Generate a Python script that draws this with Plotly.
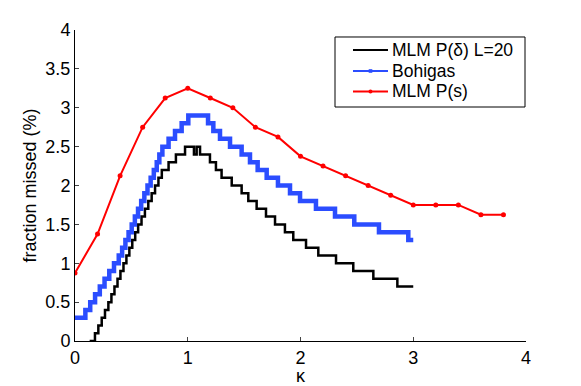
import plotly.graph_objects as go

# ---- data ----
# MLM P(delta) L=20 : staircase, step start kappa and level
black_kappa = [0.13, 0.177, 0.207, 0.237, 0.266, 0.296, 0.323, 0.350, 0.377, 0.403,
               0.43, 0.456, 0.482, 0.508, 0.534, 0.56, 0.59, 0.62, 0.65, 0.68,
               0.71, 0.74, 0.77, 0.83, 0.895, 0.976, 1.055, 1.079, 1.109, 1.197,
               1.25, 1.30, 1.39, 1.478, 1.537, 1.611, 1.694, 1.774, 1.862, 1.936,
               2.049, 2.158, 2.315, 2.468, 2.646, 2.859, 3.0]
black_frac = [0.0, 0.1, 0.2, 0.3, 0.4, 0.5, 0.6, 0.7, 0.8, 0.9,
              1.0, 1.1, 1.2, 1.3, 1.4, 1.5, 1.6, 1.7, 1.8, 1.9,
              2.0, 2.1, 2.2, 2.3, 2.4, 2.5, 2.4, 2.5, 2.4, 2.3,
              2.2, 2.1, 2.0, 1.9, 1.8, 1.7, 1.6, 1.5, 1.4, 1.3,
              1.2, 1.1, 1.0, 0.9, 0.8, 0.7, 0.7]

# Bohigas : staircase
blue_kappa = [0.0, 0.092, 0.135, 0.178, 0.22, 0.262, 0.304, 0.346, 0.388, 0.418,
              0.447, 0.475, 0.503, 0.531, 0.559, 0.587, 0.615, 0.643, 0.671, 0.699,
              0.725, 0.748, 0.775, 0.83, 0.887, 0.946, 1.005, 1.18, 1.227, 1.286,
              1.375, 1.478, 1.552, 1.62, 1.70, 1.80, 1.907, 1.996, 2.137, 2.306,
              2.477, 2.696, 2.956, 3.0]
blue_frac = [0.3, 0.4, 0.5, 0.6, 0.7, 0.8, 0.9, 1.0, 1.1, 1.2,
             1.3, 1.4, 1.5, 1.6, 1.7, 1.8, 1.9, 2.0, 2.1, 2.2,
             2.3, 2.4, 2.5, 2.6, 2.7, 2.8, 2.9, 2.8, 2.7, 2.6,
             2.5, 2.4, 2.3, 2.2, 2.1, 2.0, 1.9, 1.8, 1.7, 1.6,
             1.5, 1.4, 1.3, 1.3]

# MLM P(s)
red_kappa = [0.0, 0.2, 0.4, 0.6, 0.8, 1.0, 1.2, 1.4, 1.6, 1.8,
             2.0, 2.2, 2.4, 2.6, 2.8, 3.0, 3.2, 3.4, 3.6, 3.8]
red_frac = [0.875, 1.375, 2.125, 2.75, 3.125, 3.25, 3.125, 3.0, 2.75, 2.625,
            2.375, 2.25, 2.125, 2.0, 1.875, 1.75, 1.75, 1.75, 1.625, 1.625]

series_names = ["MLM P(δ) L=20", "Bohigas", "MLM P(s)"]
series_colors = ["#000000", "#2b4dff", "#ff0000"]

tick_vals_x = [0, 1, 2, 3, 4]
tick_vals_y = [0, 0.5, 1, 1.5, 2, 2.5, 3, 3.5, 4]
tick_text_y = ["0", "0.5", "1", "1.5", "2", "2.5", "3", "3.5", "4"]

FONT = "Liberation Sans, Arial, Helvetica, sans-serif"

fig = go.Figure()
fig.add_trace(go.Scatter(x=black_kappa, y=black_frac, mode="lines", line_shape="hv",
                         line=dict(color=series_colors[0], width=2.5), name=series_names[0]))
fig.add_trace(go.Scatter(x=blue_kappa, y=blue_frac, mode="lines", line_shape="hv",
                         line=dict(color=series_colors[1], width=4.5), name=series_names[1]))
fig.add_trace(go.Scatter(x=red_kappa, y=red_frac, mode="lines+markers",
                         line=dict(color=series_colors[2], width=2),
                         marker=dict(color=series_colors[2], size=5, symbol="circle"),
                         name=series_names[2]))

# ---- legend box drawn in paper coordinates (Matlab style) ----
box_x0, box_x1 = 0.5765, 0.9978
box_y0, box_y1 = 0.7524, 0.9775
line_x0, line_x1 = 0.6164, 0.694
text_x = 0.6984
row_y = [0.9357, 0.8682, 0.8023]

shapes = [dict(type="rect", xref="paper", yref="paper", x0=box_x0, x1=box_x1,
               y0=box_y0, y1=box_y1, line=dict(color="black", width=1),
               fillcolor="white", layer="above")]
annotations = []
for name, col, yy in zip(series_names, series_colors, row_y):
    shapes.append(dict(type="line", xref="paper", yref="paper", x0=line_x0, x1=line_x1,
                       y0=yy, y1=yy, line=dict(color=col, width=2), layer="above"))
    annotations.append(dict(xref="paper", yref="paper", x=text_x, y=yy, text=name,
                            showarrow=False, xanchor="left", yanchor="middle",
                            font=dict(size=17.5, family=FONT, color="black")))
# small legend markers (square for Bohigas, dot for MLM P(s))
xm = (line_x0 + line_x1) / 2
shapes.append(dict(type="rect", xref="paper", yref="paper",
                   x0=xm - 0.004, x1=xm + 0.004, y0=row_y[1] - 0.0058, y1=row_y[1] + 0.0058,
                   line=dict(width=0), fillcolor=series_colors[1], layer="above"))
shapes.append(dict(type="circle", xref="paper", yref="paper",
                   x0=xm - 0.0045, x1=xm + 0.0045, y0=row_y[2] - 0.0065, y1=row_y[2] + 0.0065,
                   line=dict(width=0), fillcolor=series_colors[2], layer="above"))

# the page body has an 8px margin, so the figure is drawn 8px in from the corner
fig.update_layout(
    width=573, height=378,
    margin=dict(l=67, r=55, t=22, b=45),
    paper_bgcolor="white", plot_bgcolor="white",
    font=dict(family=FONT, size=18, color="black"),
    showlegend=False,
    shapes=shapes,
    annotations=annotations,
    xaxis=dict(range=[0, 4], tickvals=tick_vals_x, ticks="inside", ticklen=4,
               showline=True, linecolor="black", linewidth=1, mirror=False,
               showgrid=False, zeroline=False, tickfont=dict(size=18),
               automargin=False,
               title=dict(text="κ", standoff=0, font=dict(size=18))),
    yaxis=dict(range=[0, 4], tickvals=tick_vals_y, ticktext=tick_text_y,
               ticks="inside", ticklen=4,
               showline=True, linecolor="black", linewidth=1, mirror=False,
               showgrid=False, zeroline=False, tickfont=dict(size=18),
               automargin=False,
               title=dict(text="fraction missed (%)", standoff=4, font=dict(size=18))),
)

fig.write_html("out.html")
